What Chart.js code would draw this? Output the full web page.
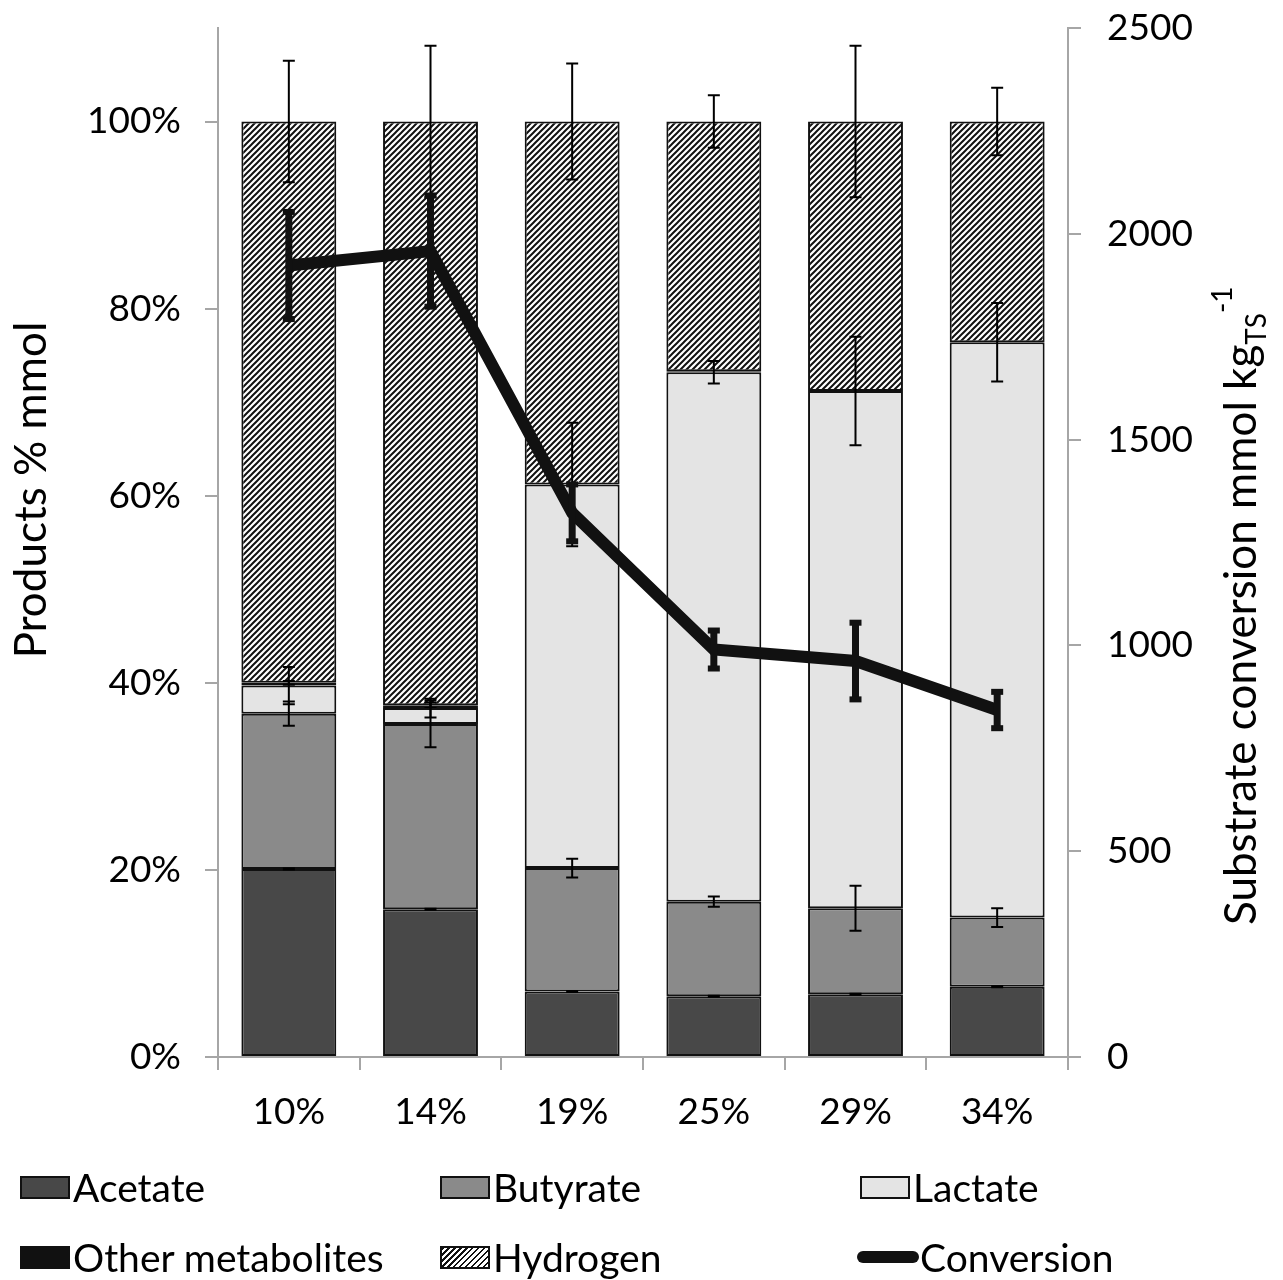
<!DOCTYPE html>
<html>
<head>
<meta charset="utf-8">
<script src="https://cdn.jsdelivr.net/npm/chart.js@4.4.1/dist/chart.umd.min.js"></script>
<style>
  html, body { margin: 0; padding: 0; background: #ffffff; }
  #wrap { position: relative; width: 1283px; height: 1280px; overflow: hidden; }
  #c { position: absolute; left: 0; top: 0; }
  .leg { position: absolute; height: 44px; display: flex; align-items: center;
         font-family: Lato, 'Open Sans', sans-serif; font-size: 39px; color: #000; white-space: nowrap; }
  .sw { width: 50px; height: 23px; box-sizing: border-box; border: 2px solid #111; margin-right: 3px; }
  .ln { width: 62px; height: 12px; border-radius: 6px; background: #111; margin-right: 1px; }
</style>
</head>
<body>
<div id="wrap">
  <canvas id="c" width="1283" height="1280"></canvas>
  <div id="legend"></div>
</div>
<script>
// ---- data ----
const categories = ['10%', '14%', '19%', '25%', '29%', '34%'];

const acetate          = [20.1, 15.8, 7.0, 6.5, 6.7, 7.5];
const butyrate         = [16.6, 19.8, 13.2, 10.1, 9.2, 7.4];
const lactate          = [3.0, 1.7, 41.0, 56.6, 55.3, 61.5];
const otherMetabolites = [0.3, 0.3, 0.0, 0.1, 0.0, 0.0];
const hydrogen         = [60.0, 62.4, 38.8, 26.7, 28.8, 23.6];

const acetateErr  = [0.05, 0.05, 0.05, 0.05, 0.05, 0.05];
const butyrateErr = [1.3, 2.5, 1.0, 0.55, 2.4, 1.0];
const lactateErr  = [2.0, 1.0, 6.6, 1.2, 5.8, 4.2];
const otherErr    = [0.2, 0.3, 0.0, 0.0, 0.0, 0.0];
const hydrogenErr = [6.5, 8.1, 6.2, 2.8, 8.1, 3.6];

const conversion    = [1923, 1958, 1322, 990, 962, 843];
const conversionErr = [135, 140, 74, 51, 98, 49];

const leftTickValues  = [0, 20, 40, 60, 80, 100];
const rightTickValues = [0, 500, 1000, 1500, 2000, 2500];

// ---- styling ----
const FONT = "Lato, 'Open Sans', sans-serif";
const AXIS_GRAY = '#a6a6a6';

function hatchPattern() {
  const s = 6;
  const pc = document.createElement('canvas');
  pc.width = s; pc.height = s;
  const g = pc.getContext('2d');
  g.fillStyle = '#ffffff';
  g.fillRect(0, 0, s, s);
  g.strokeStyle = '#111111';
  g.lineWidth = 2;
  g.beginPath();
  g.moveTo(-1, s + 1); g.lineTo(s + 1, -1);
  g.moveTo(-1, 1); g.lineTo(1, -1);
  g.moveTo(s - 1, s + 1); g.lineTo(s + 1, s - 1);
  g.stroke();
  return document.getElementById('c').getContext('2d').createPattern(pc, 'repeat');
}
const hatch = hatchPattern();

function barSet(label, data, color, errs) {
  return {
    type: 'bar', label, data, errors: errs,
    backgroundColor: color, borderColor: '#111111',
    borderWidth: c => (c.raw ? 2 : 0),
    borderSkipped: false, yAxisID: 'y', stack: 's', order: 1,
    barPercentage: 0.67, categoryPercentage: 1.0
  };
}

const barDatasets = [
  barSet('Acetate', acetate, '#484848', acetateErr),
  barSet('Butyrate', butyrate, '#8a8a8a', butyrateErr),
  barSet('Lactate', lactate, '#e4e4e4', lactateErr),
  barSet('Other metabolites', otherMetabolites, '#111111', otherErr),
  barSet('Hydrogen', hydrogen, hatch, hydrogenErr)
];

const lineDataset = {
  type: 'line', label: 'Conversion', data: conversion, errors: conversionErr,
  yAxisID: 'y1', borderColor: '#111111', backgroundColor: '#111111',
  borderWidth: 12, pointRadius: 0, pointHoverRadius: 0, tension: 0,
  borderJoinStyle: 'miter', borderCapStyle: 'butt', fill: false, order: 0
};

// error bar drawing through the scales
const errorBarPlugin = {
  id: 'errorBars',
  afterDatasetDraw(chart, args) {
    const ds = chart.data.datasets[args.index];
    if (!ds.errors) return;
    const ctx = chart.ctx;
    const meta = chart.getDatasetMeta(args.index);
    ctx.save();
    ctx.fillStyle = '#000';
    ctx.strokeStyle = '#000';
    if (ds.type === 'bar') {
      const ys = chart.scales.y;
      const bars = chart.data.datasets.filter(d => d.type === 'bar');
      const barIdx = bars.indexOf(ds);
      meta.data.forEach((el, j) => {
        const e = ds.errors[j];
        if (!e) return;
        let top = 0;
        for (let k = 0; k <= barIdx; k++) top += bars[k].data[j];
        const x = el.x;
        const y1 = ys.getPixelForValue(top + e);
        const y2 = ys.getPixelForValue(top - e);
        ctx.lineWidth = 2;
        ctx.beginPath();
        ctx.moveTo(x, y1); ctx.lineTo(x, y2);
        ctx.moveTo(x - 6, y1); ctx.lineTo(x + 6, y1);
        ctx.moveTo(x - 6, y2); ctx.lineTo(x + 6, y2);
        ctx.stroke();
      });
    } else {
      const ys = chart.scales.y1;
      meta.data.forEach((el, j) => {
        const e = ds.errors[j];
        const x = el.x;
        const y1 = ys.getPixelForValue(ds.data[j] + e);
        const y2 = ys.getPixelForValue(ds.data[j] - e);
        ctx.fillStyle = '#111';
        ctx.fillRect(x - 3.5, y1, 7, y2 - y1);
        ctx.fillRect(x - 6, y1 - 1, 12, 6);
        ctx.fillRect(x - 6, y2 - 5, 12, 6);
      });
    }
    ctx.restore();
  }
};

// axis titles (right one has sub/superscript)
const titlePlugin = {
  id: 'axisTitles',
  afterDraw(chart) {
    const ctx = chart.ctx;
    ctx.save();
    ctx.fillStyle = '#000';
    // left title
    ctx.save();
    ctx.translate(32, 490);
    ctx.rotate(-Math.PI / 2);
    ctx.textAlign = 'center';
    ctx.textBaseline = 'middle';
    ctx.font = '44px ' + FONT;
    ctx.fillText('Products % mmol', 0, 0);
    ctx.restore();
    // right title
    ctx.save();
    ctx.translate(1240, 925);
    ctx.rotate(-Math.PI / 2);
    ctx.textAlign = 'left';
    ctx.textBaseline = 'alphabetic';
    ctx.font = '44px ' + FONT;
    const main = 'Substrate conversion mmol kg';
    ctx.fillText(main, 0, 16);
    let w = ctx.measureText(main).width;
    ctx.font = '28px ' + FONT;
    ctx.fillText('TS', w, 26);
    w += ctx.measureText('TS').width;
    ctx.fillText('-1', w, -8);
    ctx.restore();
    ctx.restore();
  }
};

function fixVertical(width) {
  return function (s) {
    s.width = width;
    s.paddingTop = 0;
    s.paddingBottom = 0;
  };
}

const chart = new Chart(document.getElementById('c'), {
  type: 'bar',
  data: {
    labels: categories,
    datasets: [lineDataset, ...barDatasets]
  },
  options: {
    responsive: false,
    animation: false,
    devicePixelRatio: 1,
    layout: { padding: { top: 28, left: 0, right: 0, bottom: 0 } },
    plugins: { legend: { display: false }, tooltip: { enabled: false } },
    scales: {
      x: {
        type: 'category',
        offset: true,
        grid: { display: true, drawOnChartArea: false, drawTicks: true, tickLength: 13, color: AXIS_GRAY, lineWidth: 2, offset: true },
        border: { display: true, color: AXIS_GRAY, width: 2 },
        ticks: { color: '#000', font: { family: FONT, size: 37 }, padding: 20, maxRotation: 0 },
        afterFit(s) { s.height = 223; s.paddingLeft = 0; s.paddingRight = 0; }
      },
      y: {
        type: 'linear', position: 'left', stacked: true,
        min: 0, max: 110,
        afterBuildTicks(s) { s.ticks = leftTickValues.map(v => ({ value: v })); },
        grid: { display: true, drawOnChartArea: false, drawTicks: true, tickLength: 13, color: AXIS_GRAY, lineWidth: 2 },
        border: { display: true, color: AXIS_GRAY, width: 2 },
        ticks: { color: '#000', font: { family: FONT, size: 37 }, padding: 24, callback: v => v + '%' },
        afterFit: fixVertical(218)
      },
      y1: {
        type: 'linear', position: 'right',
        min: 0, max: 2500,
        afterBuildTicks(s) { s.ticks = rightTickValues.map(v => ({ value: v })); },
        grid: { display: true, drawOnChartArea: false, drawTicks: true, tickLength: 13, color: AXIS_GRAY, lineWidth: 2 },
        border: { display: true, color: AXIS_GRAY, width: 2 },
        ticks: { color: '#000', font: { family: FONT, size: 37 }, padding: 26, callback: v => String(v) },
        afterFit: fixVertical(215)
      }
    }
  },
  plugins: [errorBarPlugin, titlePlugin]
});

// HTML legend built from the chart's datasets
(function buildLegend() {
  const order = ['Acetate', 'Butyrate', 'Lactate', 'Other metabolites', 'Hydrogen', 'Conversion'];
  const colX = [20, 440, 860];
  const rowY = [1165, 1235];
  const host = document.getElementById('legend');
  order.forEach((name, i) => {
    const ds = chart.data.datasets.find(d => d.label === name);
    const item = document.createElement('div');
    item.className = 'leg';
    item.style.left = colX[i % 3] + 'px';
    item.style.top = rowY[Math.floor(i / 3)] + 'px';
    const sw = document.createElement('div');
    if (ds.type === 'line') {
      sw.className = 'ln';
      item.style.left = (colX[i % 3] - 3) + 'px';
    } else {
      sw.className = 'sw';
      if (name === 'Hydrogen') {
        sw.style.background = 'repeating-linear-gradient(135deg, #111 0 1.6px, #fff 1.6px 4.2px)';
      } else {
        sw.style.background = ds.backgroundColor;
      }
    }
    const tx = document.createElement('span');
    tx.textContent = name;
    item.appendChild(sw);
    item.appendChild(tx);
    host.appendChild(item);
  });
})();
</script>
</body>
</html>
